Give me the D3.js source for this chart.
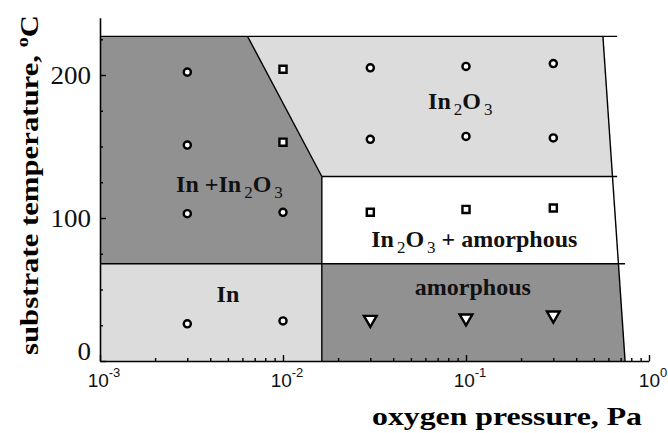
<!DOCTYPE html>
<html>
<head>
<meta charset="utf-8">
<script src="https://cdn.jsdelivr.net/npm/d3@7"></script>
<style>
  body { margin: 0; background: #fff; }
  svg { display: block; }
</style>
</head>
<body>
<svg id="chart" width="668" height="433"></svg>
<script>
// ---- axis ticks ----
const pressureTicks = [1e-3, 1e-2, 1e-1, 1];
const pressureExponents = ["-3", "-2", "-1", "0"];
const pressureMinorTicks = [2,3,4,5,6,7,8,9].flatMap(k => [1e-3, 1e-2, 1e-1].map(d => k * d));
const temperatureTicks = [0, 100, 200];
const temperatureMinorTicks = [25, 50, 75, 125, 150, 175, 225];
const temperatureAxisTop = 240;

// ---- phase regions (oxygen pressure in Pa, substrate temperature in °C) ----
const phaseIn            = [[1e-3, 0], [1e-3, 68], [0.0163, 68], [0.0163, 0]];
const phaseInOxide       = [[1e-3, 68], [1e-3, 227], [0.0064, 227], [0.0163, 129], [0.0163, 68]];
const phaseOxide         = [[0.0064, 227], [1, 227], [1, 129], [0.0163, 129]];
const phaseOxideAmorph   = [[0.0163, 129], [1, 129], [1, 68], [0.0163, 68]];
const phaseAmorph        = [[0.0163, 68], [1, 68], [1, 0], [0.0163, 0]];
const diagramOutline     = [[1e-3, 0], [1e-3, 227], [0.56, 227], [0.74, 0]];

// ---- boundary lines ----
const boundaryLines = [
  [[1e-3, 227], [0.67, 227]],
  [[0.0163, 129], [0.67, 129]],
  [[1e-3, 68], [0.74, 68]],
  [[0.0163, 0], [0.0163, 129]],
  [[0.0064, 227], [0.0163, 129]],
  [[0.56, 227], [0.74, 0]]
];

// ---- deposition runs ----
const runPressure = [0.003, 0.003, 0.003, 0.003, 0.01, 0.01, 0.01, 0.01,
                     0.03, 0.03, 0.03, 0.03, 0.1, 0.1, 0.1, 0.1, 0.3, 0.3, 0.3, 0.3];
const runTemperature = [202, 151, 103, 26, 204, 153, 104, 28,
                        205, 155, 104, 29, 206, 157, 106, 30, 208, 156, 107, 32];
const runPhase = ["c", "c", "c", "c", "s", "s", "c", "c",
                  "c", "c", "s", "t", "c", "c", "s", "t", "c", "c", "s", "t"];

// ---- phase labels ----
const labelText = ["In +In|2|O|3", "In|2|O|3", "In|2|O|3| + amorphous", "amorphous", "In"];
const labelPressure = [0.0051, 0.093, 0.111, 0.109, 0.005];
const labelTemperature = [118, 176, 80, 46, 41];

const svg = d3.select("#chart");

const x = d3.scaleLog().domain([1e-3, 1]).range([100, 649]);
const y = d3.scaleLinear().domain([0, 100]).range([361, 218]);
const yAxisScale = y.copy().domain([0, temperatureAxisTop]).range([y(0), y(temperatureAxisTop)]);

const pt = d => [x(d[0]), y(d[1])];
const poly = pts => "M" + pts.map(pt).map(p => p.join(",")).join("L") + "Z";

const DARK = "#919191", LIGHT = "#dcdcdc";

svg.append("clipPath").attr("id", "outline")
  .append("path").attr("d", poly(diagramOutline));

const regions = svg.append("g").attr("clip-path", "url(#outline)");
[[phaseIn, LIGHT], [phaseInOxide, DARK], [phaseOxide, LIGHT],
 [phaseOxideAmorph, "#ffffff"], [phaseAmorph, DARK]].forEach(([p, c]) => {
  regions.append("path").attr("d", poly(p)).attr("fill", c);
});

svg.append("g").selectAll("path").data(boundaryLines).join("path")
  .attr("d", d => "M" + d.map(pt).map(p => p.join(",")).join("L"))
  .attr("fill", "none").attr("stroke", "#000").attr("stroke-width", 1.4);

// ---- axes ----
const axisStyle = g => {
  g.select(".domain").attr("stroke", "#000").attr("stroke-width", 1.6);
  g.selectAll(".tick line").attr("stroke", "#000").attr("stroke-width", 1.4);
};

svg.append("g").attr("transform", `translate(0,${y(0)})`)
  .call(d3.axisBottom(x).tickValues(pressureMinorTicks).tickSize(-3).tickFormat(""))
  .call(g => g.select(".domain").remove())
  .call(axisStyle);

svg.append("g").attr("transform", `translate(0,${y(0)})`)
  .call(d3.axisBottom(x).tickValues(pressureTicks).tickSizeInner(-6).tickSizeOuter(0).tickFormat(""))
  .call(axisStyle);

// x tick labels: 10 with superscript exponent
const xLab = svg.append("g").attr("font-family", "'Liberation Sans', Arial, sans-serif").attr("fill", "#111");
pressureTicks.forEach((v, i) => {
  const t = xLab.append("text").attr("x", x(v) + 4).attr("y", 387)
    .attr("text-anchor", "middle").attr("font-size", 19);
  t.append("tspan").text("10");
  t.append("tspan").attr("font-size", 13).attr("dy", -10).text(pressureExponents[i]);
});

svg.append("g").attr("transform", `translate(${x(1e-3)},0)`)
  .call(d3.axisLeft(y).tickValues(temperatureMinorTicks).tickSize(-3).tickFormat(""))
  .call(g => g.select(".domain").remove())
  .call(axisStyle);

svg.append("g").attr("transform", `translate(${x(1e-3)},0)`)
  .call(d3.axisLeft(yAxisScale).tickValues(temperatureTicks)
    .tickSizeInner(-6).tickSizeOuter(0).tickPadding(9))
  .call(axisStyle)
  .call(g => g.selectAll(".tick text")
    .attr("font-family", "'Liberation Serif', 'Times New Roman', serif")
    .attr("font-size", 26).attr("fill", "#111")
    .attr("textLength", d => String(d).length * 13.5)
    .attr("lengthAdjust", "spacingAndGlyphs")
    .attr("dy", d => d === 0 ? "-0.05em" : "0.32em"));

// ---- deposition run markers ----
const symbolFor = s => s === "c" ? d3.symbol(d3.symbolCircle, 40)
                    : s === "s" ? d3.symbol(d3.symbolSquare, 50)
                    : d3.symbol(d3.symbolTriangle, 70);
svg.append("g").selectAll("path").data(runPressure.map((p, i) => i)).join("path")
  .attr("d", i => symbolFor(runPhase[i])())
  .attr("transform", i => `translate(${x(runPressure[i])},${y(runTemperature[i])})` + (runPhase[i] === "t" ? " rotate(180)" : ""))
  .attr("fill", "#fff").attr("stroke", "#000").attr("stroke-width", 2.4);

// ---- phase labels ----
const lab = svg.append("g").attr("font-family", "'Liberation Serif', 'Times New Roman', serif")
  .attr("font-weight", "bold").attr("font-size", 24).attr("fill", "#111");
labelText.forEach((s, i) => {
  const t = lab.append("text").attr("x", x(labelPressure[i])).attr("y", y(labelTemperature[i]))
    .attr("text-anchor", "middle");
  s.split("|").forEach((part, j) => {
    const sub = /^[23]$/.test(part);
    const ts = t.append("tspan").text(part);
    if (sub) ts.attr("font-size", 17).attr("font-weight", "normal").attr("dy", 6).attr("dx", 3);
    else if (j > 0) ts.attr("dy", -6);
  });
});

// ---- axis titles ----
svg.append("text")
  .attr("x", 507).attr("y", 425).attr("text-anchor", "middle")
  .attr("font-family", "'Liberation Serif', 'Times New Roman', serif")
  .attr("font-weight", "bold").attr("font-size", 26)
  .attr("textLength", 270).attr("lengthAdjust", "spacingAndGlyphs")
  .text("oxygen pressure, Pa");

const yt = svg.append("text")
  .attr("transform", "translate(38,185) rotate(-90)").attr("text-anchor", "middle")
  .attr("font-family", "'Liberation Serif', 'Times New Roman', serif")
  .attr("font-weight", "bold").attr("font-size", 26)
  .attr("textLength", 340).attr("lengthAdjust", "spacingAndGlyphs");
yt.append("tspan").text("substrate temperature, ");
yt.append("tspan").attr("font-size", 17).attr("dy", -10).text("o");
yt.append("tspan").attr("dy", 10).text("C");
</script>
</body>
</html>
